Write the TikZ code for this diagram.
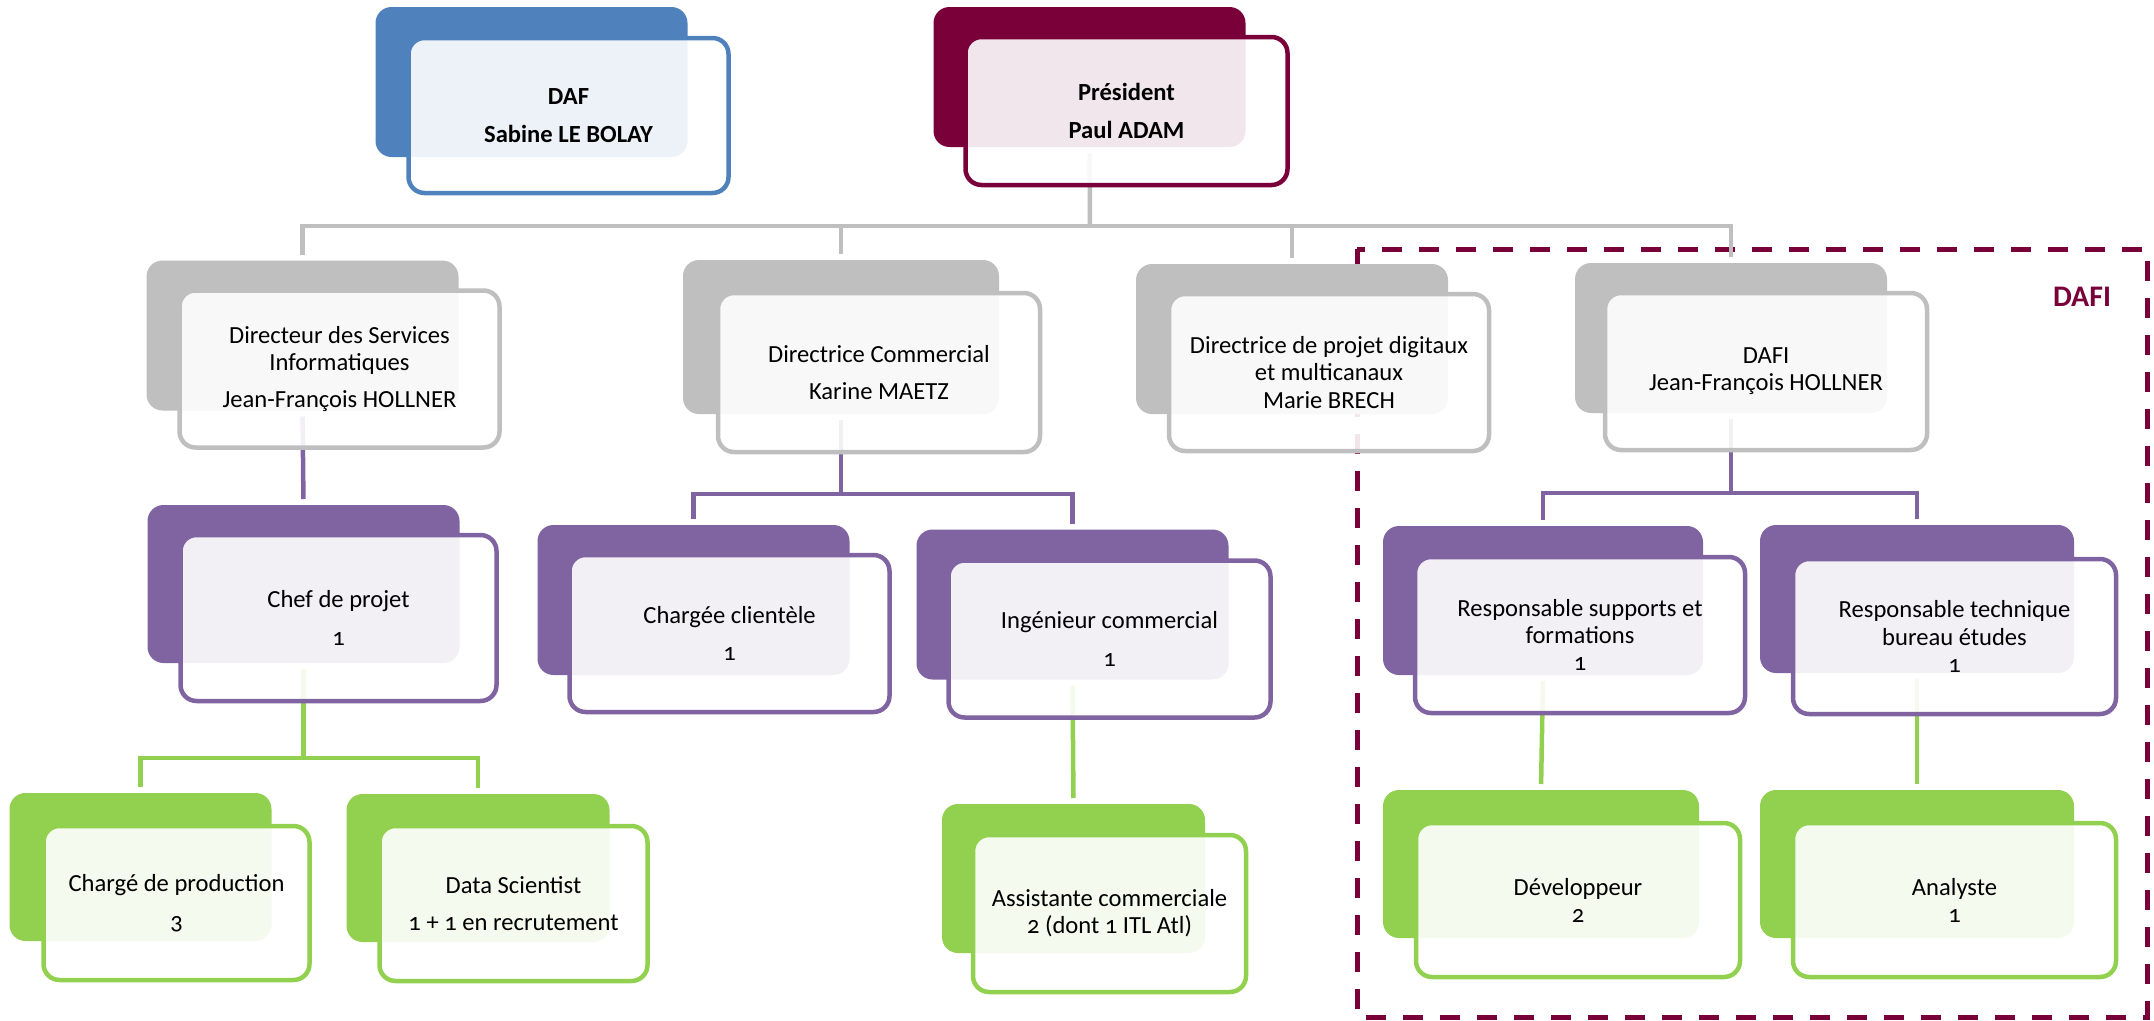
\documentclass[tikz,border=0pt]{standalone}
\usepackage{fontspec}
\setmainfont{Carlito}[Numbers=OldStyle]
\usepackage{tikz}
\usetikzlibrary{positioning,backgrounds}
\definecolor{dafblue}{RGB}{79,129,189}
\definecolor{presred}{RGB}{122,0,58}
\definecolor{dirgray}{RGB}{191,191,191}
\definecolor{teampurple}{RGB}{128,100,162}
\definecolor{staffgreen}{RGB}{146,208,80}
\tikzstyle{backbox} = [rectangle, rounded corners=1.6mm, draw=none, outer sep=0pt, minimum width=31.2mm, minimum height=15mm]
\tikzstyle{frontbox} = [rectangle, rounded corners=1.6mm, line width=0.45mm, fill=white, fill opacity=0.9, text opacity=1, text=black, outer sep=0pt, inner sep=0pt, align=center, font=\fontsize{7}{7.7}\selectfont, minimum width=32mm, minimum height=15.7mm]
\tikzstyle{orgline} = [line width=0.45mm]
\tikzstyle{dafiframe} = [draw=presred, line width=0.5mm, dash pattern=on 2mm off 1.7mm]

\begin{document}
\begin{tikzpicture}[x=0.1mm, y=-0.1mm]
\useasboundingbox (0,0) rectangle (2154,1021);

% top =============================
\node[backbox, fill=dafblue] (daf0) at (531.5,82) {};
\node[frontbox, draw=dafblue, font=\fontsize{7}{7.7}\selectfont\bfseries, minimum height=15.5mm, below right=3.1mm and 3.3mm of daf0.north west] (daf) {DAF\\[3pt]Sabine LE BOLAY};

\node[backbox, fill=presred, minimum height=14mm] (pres0) at (1089.5,77) {};
\node[frontbox, draw=presred, font=\fontsize{7}{7.7}\selectfont\bfseries, minimum width=32.2mm, minimum height=14.8mm, below right=3mm and 3.2mm of pres0.north west] (pres) {Président\\[3pt]Paul ADAM};

% directors
\node[backbox, fill=dirgray] (dsi0) at (302.5,335.5) {};
\node[frontbox, draw=dirgray, below right=3mm and 3.3mm of dsi0.north west] (dsi) {Directeur des Services\\Informatiques\\[3pt]Jean-François HOLLNER};

\node[backbox, fill=dirgray, minimum width=31.6mm, minimum height=15.4mm] (com0) at (841,337) {};
\node[frontbox, draw=dirgray, minimum width=32.2mm, minimum height=15.9mm, below right=3.3mm and 3.5mm of com0.north west] (com) {Directrice Commercial\\[3pt]Karine MAETZ};

\node[backbox, fill=dirgray] (dig0) at (1292,339) {};
\node[frontbox, draw=dirgray, below right=3mm and 3.3mm of dig0.north west] (dig) {Directrice de projet digitaux\\et multicanaux\\Marie BRECH};

\node[backbox, fill=dirgray] (dafi0) at (1731,338) {};
\node[frontbox, draw=dirgray, minimum width=32.2mm, below right=3mm and 3mm of dafi0.north west] (dafi) {DAFI\\Jean-François HOLLNER};

% teams
\node[backbox, fill=teampurple, minimum height=15.8mm] (chef0) at (303.5,584) {};
\node[frontbox, draw=teampurple, minimum width=31.6mm, minimum height=16.6mm, below right=3mm and 3.3mm of chef0.north west] (chef) {Chef de projet\\[3pt]1};

\node[backbox, fill=teampurple] (cli0) at (693.5,600) {};
\node[frontbox, draw=teampurple, below right=3mm and 3.2mm of cli0.north west] (cli) {Chargée clientèle\\[3pt]1};

\node[backbox, fill=teampurple] (ing0) at (1072.5,604.5) {};
\node[frontbox, draw=teampurple, minimum width=32.2mm, below right=3.1mm and 3.2mm of ing0.north west] (ing) {Ingénieur commercial\\[3pt]1};

\node[backbox, fill=teampurple, minimum width=32mm, minimum height=14.9mm] (sup0) at (1543,600.5) {};
\node[frontbox, draw=teampurple, minimum width=33mm, minimum height=15.6mm, below right=3.1mm and 3.2mm of sup0.north west] (sup) {Responsable supports et\\formations\\1};

\node[backbox, fill=teampurple, minimum width=31.4mm, minimum height=14.8mm] (tech0) at (1917,599) {};
\node[frontbox, draw=teampurple, minimum width=32.3mm, minimum height=15.5mm, below right=3.4mm and 3.3mm of tech0.north west] (tech) {Responsable technique\\bureau études\\1};

% staff
\node[backbox, fill=staffgreen, minimum width=26.2mm, minimum height=14.8mm] (prod0) at (140.5,867) {};
\node[frontbox, draw=staffgreen, minimum width=26.6mm, minimum height=15.4mm, below right=3.3mm and 3.4mm of prod0.north west] (prod) {Chargé de production\\[3pt]3};

\node[backbox, fill=staffgreen, minimum width=26.3mm, minimum height=14.8mm] (data0) at (478,868) {};
\node[frontbox, draw=staffgreen, minimum width=26.8mm, minimum height=15.5mm, below right=3.2mm and 3.3mm of data0.north west] (data) {Data Scientist\\[3pt]1 + 1 en recrutement};

\node[backbox, fill=staffgreen, minimum width=26.3mm, minimum height=14.9mm] (ass0) at (1073.5,878.5) {};
\node[frontbox, draw=staffgreen, minimum width=27.3mm, minimum height=15.7mm, below right=3.1mm and 3.1mm of ass0.north west] (ass) {Assistante commerciale\\2 (dont 1 ITL Atl)};

\node[backbox, fill=staffgreen, minimum width=31.6mm, minimum height=14.8mm] (dev0) at (1541,864) {};
\node[frontbox, draw=staffgreen, minimum width=32.4mm, minimum height=15.4mm, below right=3.3mm and 3.3mm of dev0.north west] (dev) {Développeur\\2};

\node[backbox, fill=staffgreen, minimum width=31.4mm, minimum height=14.8mm] (ana0) at (1917,864) {};
\node[frontbox, draw=staffgreen, minimum width=32.3mm, minimum height=15.4mm, below right=3.3mm and 3.3mm of ana0.north west] (ana) {Analyste\\1};

\node[text=presred, font=\fontsize{8.5}{10}\selectfont\bfseries] (dafititle) at (2082,297) {DAFI};

% edges =============================
\begin{scope}[on background layer]
\draw[dafiframe] (1357,249) rectangle (2147,1017);

% president to directors
\coordinate (bus1) at (1090,226);
\draw[orgline, draw=dirgray, shorten <=0.6mm] (pres0.south) -- (bus1);
\draw[orgline, draw=dirgray, shorten >=0.6mm] (bus1) -| (dsi0.north);
\draw[orgline, draw=dirgray, shorten >=0.6mm] (bus1) -| (com0.north);
\draw[orgline, draw=dirgray, shorten >=0.6mm] (bus1) -| (dig0.north);
\draw[orgline, draw=dirgray, shorten >=0.6mm] (bus1) -| (dafi0.north);

% directors to teams
\draw[orgline, draw=teampurple, shorten <=0.6mm, shorten >=0.6mm] (dsi0.south) -- (chef0.north);
\coordinate (bus2) at (841,494);
\draw[orgline, draw=teampurple, shorten <=0.6mm] (com0.south) -- (bus2);
\draw[orgline, draw=teampurple, shorten >=0.6mm] (bus2) -| (cli0.north);
\draw[orgline, draw=teampurple, shorten >=0.6mm] (bus2) -| (ing0.north);
\coordinate (bus3) at (1731,493);
\draw[orgline, draw=teampurple, shorten <=0.6mm] (dafi0.south) -- (bus3);
\draw[orgline, draw=teampurple, shorten >=0.6mm] (bus3) -| (sup0.north);
\draw[orgline, draw=teampurple, shorten >=0.6mm] (bus3) -| (tech0.north);

% teams to staff
\coordinate (bus4) at (303.5,758);
\draw[orgline, draw=staffgreen, shorten <=0.6mm] (chef0.south) -- (bus4);
\draw[orgline, draw=staffgreen, shorten >=0.6mm] (bus4) -| (prod0.north);
\draw[orgline, draw=staffgreen, shorten >=0.6mm] (bus4) -| (data0.north);
\draw[orgline, draw=staffgreen, shorten <=0.6mm, shorten >=0.6mm] (ing0.south) -- (ass0.north);
\draw[orgline, draw=staffgreen, shorten <=0.6mm, shorten >=0.6mm] (sup0.south) -- (dev0.north);
\draw[orgline, draw=staffgreen, shorten <=0.6mm, shorten >=0.6mm] (tech0.south) -- (ana0.north);
\end{scope}

\end{tikzpicture}
\end{document}
